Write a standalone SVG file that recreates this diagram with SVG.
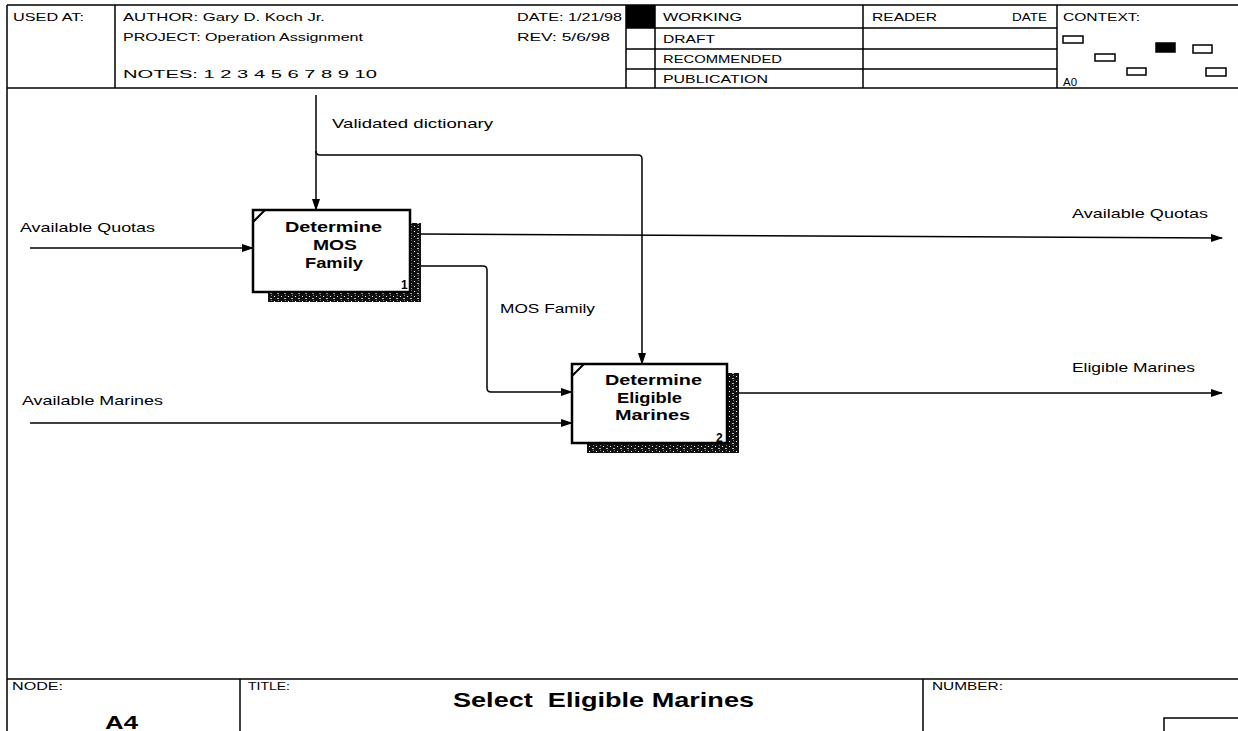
<svg xmlns="http://www.w3.org/2000/svg" width="1238" height="731" viewBox="0 0 1238 731">
<style>
text{font-family:"Liberation Sans",Arial,sans-serif;fill:#000}
.h{font-size:11px}
.l{font-size:13px}
.b{font-size:14px;font-weight:bold}
.g{stroke:#000;stroke-width:1.5;fill:none}
.c{stroke:#000;stroke-width:1.5;fill:none}
.box{fill:#fff;stroke:#000;stroke-width:2.5}
</style>
<defs>
<marker id="ah" viewBox="0 0 12 8" refX="11" refY="4" markerWidth="12" markerHeight="8" markerUnits="userSpaceOnUse" orient="auto">
<path d="M0,0 L12,4 L0,8 Z" fill="#000"/>
</marker>
<pattern id="grain" width="7" height="5" patternUnits="userSpaceOnUse">
<rect width="7" height="5" fill="#111"/>
<rect x="1" y="1" width="1" height="1" fill="#fff"/>
<rect x="4" y="3" width="2" height="1" fill="#bbb"/>
<rect x="5" y="0" width="1" height="1" fill="#888"/>
</pattern>
</defs>
<rect width="1238" height="731" fill="#fff"/>

<g id="frame">
<path class="g" d="M7,5 H1238 M7,88 H1238 M7,5 V731 M115,5 V88 M626,5 V88 M655,5 V88 M863,5 V88 M1057,5 V88 M626,28 H1057 M626,49 H1057 M626,69 H1057"/>
<rect x="626" y="5" width="29" height="23" fill="#000"/>
<path class="g" d="M7,679 H1238 M240,679 V731 M923,679 V731"/>
<rect x="1164" y="718" width="80" height="20" fill="none" stroke="#000" stroke-width="1.5"/>
</g>

<g id="header-text" class="h">
<text x="13" y="21" textLength="71" lengthAdjust="spacingAndGlyphs">USED AT:</text>
<text x="123" y="21" textLength="202" lengthAdjust="spacingAndGlyphs">AUTHOR: Gary D. Koch Jr.</text>
<text x="123" y="41" textLength="240" lengthAdjust="spacingAndGlyphs">PROJECT: Operation Assignment</text>
<text x="123" y="78" textLength="254" lengthAdjust="spacingAndGlyphs">NOTES: 1 2 3 4 5 6 7 8 9 10</text>
<text x="517" y="21" textLength="105" lengthAdjust="spacingAndGlyphs">DATE: 1/21/98</text>
<text x="517" y="41" textLength="93" lengthAdjust="spacingAndGlyphs">REV: 5/6/98</text>
<text x="663" y="21" textLength="79" lengthAdjust="spacingAndGlyphs">WORKING</text>
<text x="663" y="43" textLength="52" lengthAdjust="spacingAndGlyphs">DRAFT</text>
<text x="663" y="63" textLength="119" lengthAdjust="spacingAndGlyphs">RECOMMENDED</text>
<text x="663" y="83" textLength="105" lengthAdjust="spacingAndGlyphs">PUBLICATION</text>
<text x="872" y="21" textLength="65" lengthAdjust="spacingAndGlyphs">READER</text>
<text x="1012" y="21" textLength="35" lengthAdjust="spacingAndGlyphs">DATE</text>
<text x="1063" y="21" textLength="77" lengthAdjust="spacingAndGlyphs">CONTEXT:</text>
<text x="1063" y="86" textLength="14" lengthAdjust="spacingAndGlyphs">A0</text>
</g>

<g id="context-map" stroke="#000" stroke-width="1.5" fill="#fff">
<rect x="1063" y="36" width="20" height="7"/>
<rect x="1095" y="54" width="20" height="7"/>
<rect x="1156" y="43" width="19" height="9" fill="#000"/>
<rect x="1193" y="45" width="19" height="8"/>
<rect x="1127" y="68" width="19" height="7"/>
<rect x="1206" y="68" width="20" height="8"/>
</g>

<g id="connectors">
<path class="c" d="M316,95 V210" marker-end="url(#ah)"/>
<path class="c" d="M316,151 Q316,155 320,155 H638 Q642,155 642,159 V364" marker-end="url(#ah)"/>
<path class="c" d="M30,248 H253" marker-end="url(#ah)"/>
<path class="c" d="M420,234 L1222,238" marker-end="url(#ah)"/>
<path class="c" d="M420,266 H483 Q487,266 487,270 V388 Q487,392 491,392 H572" marker-end="url(#ah)"/>
<path class="c" d="M30,423 H572" marker-end="url(#ah)"/>
<path class="c" d="M738,393 H1222" marker-end="url(#ah)"/>
</g>

<g id="labels" class="l">
<text x="332" y="128" textLength="161" lengthAdjust="spacingAndGlyphs">Validated dictionary</text>
<text x="20" y="232" textLength="135" lengthAdjust="spacingAndGlyphs">Available Quotas</text>
<text x="22" y="405" textLength="141" lengthAdjust="spacingAndGlyphs">Available Marines</text>
<text x="1072" y="218" textLength="136" lengthAdjust="spacingAndGlyphs">Available Quotas</text>
<text x="1072" y="372" textLength="123" lengthAdjust="spacingAndGlyphs">Eligible Marines</text>
<text x="500" y="313" textLength="95" lengthAdjust="spacingAndGlyphs">MOS Family</text>
</g>

<g id="node-A41">
<rect x="410" y="223" width="11" height="79" fill="url(#grain)"/>
<rect x="268" y="292" width="153" height="10" fill="url(#grain)"/>
<rect class="box" x="253" y="210" width="157" height="82"/>
<path d="M253,222 L265,210" stroke="#000" stroke-width="2"/>
<text class="b" x="285" y="232" textLength="97" lengthAdjust="spacingAndGlyphs">Determine</text>
<text class="b" x="313" y="250" textLength="44" lengthAdjust="spacingAndGlyphs">MOS</text>
<text class="b" x="305" y="268" textLength="58" lengthAdjust="spacingAndGlyphs">Family</text>
<text class="b" x="401" y="289" style="font-size:12px">1</text>
</g>

<g id="node-A42">
<rect x="727" y="373" width="12" height="80" fill="url(#grain)"/>
<rect x="587" y="443" width="152" height="10" fill="url(#grain)"/>
<rect class="box" x="572" y="364" width="155" height="79"/>
<path d="M572,376 L584,364" stroke="#000" stroke-width="2"/>
<text class="b" x="605" y="385" textLength="97" lengthAdjust="spacingAndGlyphs">Determine</text>
<text class="b" x="617" y="403" textLength="65" lengthAdjust="spacingAndGlyphs">Eligible</text>
<text class="b" x="615" y="420" textLength="75" lengthAdjust="spacingAndGlyphs">Marines</text>
<text class="b" x="716" y="442" style="font-size:12px">2</text>
</g>

<g id="title-block">
<text class="h" x="12" y="690" textLength="51" lengthAdjust="spacingAndGlyphs">NODE:</text>
<text x="105" y="729" style="font-size:18px;font-weight:bold" textLength="33" lengthAdjust="spacingAndGlyphs">A4</text>
<text class="h" x="248" y="690" textLength="42" lengthAdjust="spacingAndGlyphs">TITLE:</text>
<text x="453" y="707" style="font-size:21px;font-weight:bold" textLength="301" lengthAdjust="spacingAndGlyphs" xml:space="preserve">Select  Eligible Marines</text>
<text class="h" x="932" y="690" textLength="71" lengthAdjust="spacingAndGlyphs">NUMBER:</text>
</g>
</svg>
